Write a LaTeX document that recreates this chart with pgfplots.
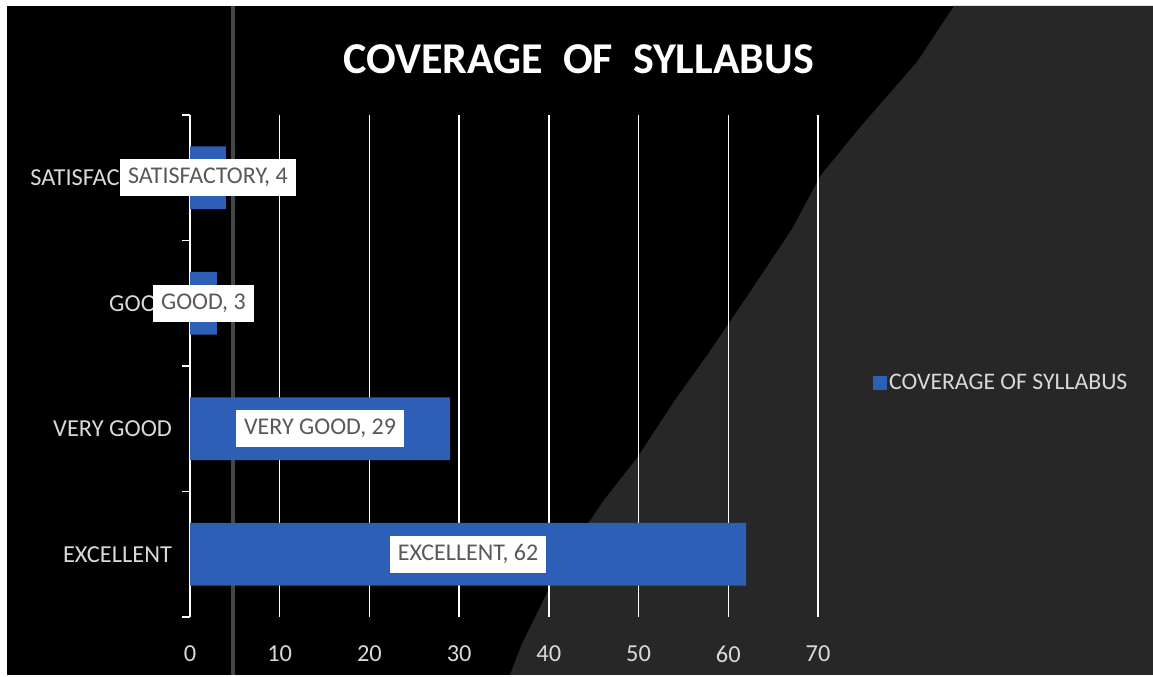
\documentclass[border=0pt]{standalone}
\usepackage{pgfplots}
\usepackage{pgfplotstable}
\pgfplotsset{compat=1.18}
\usepackage{fontspec}
\setmainfont{Carlito}

\definecolor{barblue}{RGB}{46,95,183}
\definecolor{bggray}{RGB}{39,39,39}
\definecolor{lbl}{RGB}{217,217,217}
\definecolor{boxtext}{RGB}{89,89,89}

\pgfplotstableread{
y v label
0 62 {EXCELLENT, 62}
1 29 {VERY GOOD, 29}
2 3 {GOOD, 3}
3 4 {SATISFACTORY, 4}
}\coverage

\pgfplotsset{set layers}

\begin{document}
\begin{tikzpicture}
% background, pixel units from the top left corner
\begin{pgfonlayer}{axis background}
\begin{scope}[x=0.75pt,y=-0.75pt,shift={(-142.5pt,462.75pt)}]
\fill[white] (0,0) rectangle (1153,675);
\fill[black] (7,6) rectangle (1153,675);
\fill[bggray] (954,6) -- (917,62) -- (862,125) -- (821,175) -- (792,229)
  -- (750,292) -- (708,354) -- (675,400) -- (637,458) -- (604,500)
  -- (562,562) -- (521,646) -- (510,675) -- (1153,675) -- (1153,6) -- cycle;
\draw[gray!55!black,line width=3pt] (233,6) -- (233,675);
\end{scope}
\end{pgfonlayer}

\begin{axis}[
  scale only axis,
  width=471pt, height=376.5pt,
  xmin=0, xmax=70,
  ymin=-0.5, ymax=3.5,
  xbar, bar width=47pt,
  axis lines*=left,
  x axis line style={draw=none},
  y axis line style={white, line width=1.2pt},
  xtick={0,10,...,70},
  xtick style={draw=none},
  xmajorgrids,
  major grid style={white, line width=1.1pt},
  ytick={0,1,2,3},
  yticklabels={EXCELLENT,VERY GOOD,GOOD,SATISFACTORY},
  ytick style={white, line width=1.2pt},
  major tick length=0pt,
  extra y ticks={-0.5,0.5,1.5,2.5,3.5},
  extra y tick labels={},
  extra y tick style={tick align=outside, major tick length=6pt},
  /pgf/number format/assume math mode=true,
  tick label style={font=\fontsize{18.3}{21}\selectfont, text=lbl},
  xticklabel style={yshift=-18pt},
  yticklabel style={xshift=-10pt},
  title={COVERAGE\ \ OF\ \ SYLLABUS},
  title style={font=\fontsize{33}{38}\selectfont\bfseries, text=white,
    at={(rel axis cs:0.619,1.095)}, anchor=center},
  legend style={draw=none, fill=none, text=lbl,
    font=\fontsize{17.8}{21}\selectfont,
    at={(rel axis cs:1.08,0.466)}, anchor=west},
  legend image code/.code={\fill[barblue] (0pt,-5pt) rectangle (10.5pt,5.5pt);},
]
\addplot[fill=barblue, draw=none,
  point meta=explicit symbolic,
  nodes near coords,
  visualization depends on={\thisrow{v} \as \barlen},
  every node near coord/.append style={anchor=center,
    shift={(axis direction cs:-\barlen/2,0)},
    fill=white, text=boxtext, font=\fontsize{18}{21}\selectfont,
    minimum height=28pt, inner xsep=6pt},
] table[x=v, y=y, meta=label] {\coverage};
\addlegendentry{COVERAGE OF SYLLABUS}
\end{axis}
\end{tikzpicture}
\end{document}
